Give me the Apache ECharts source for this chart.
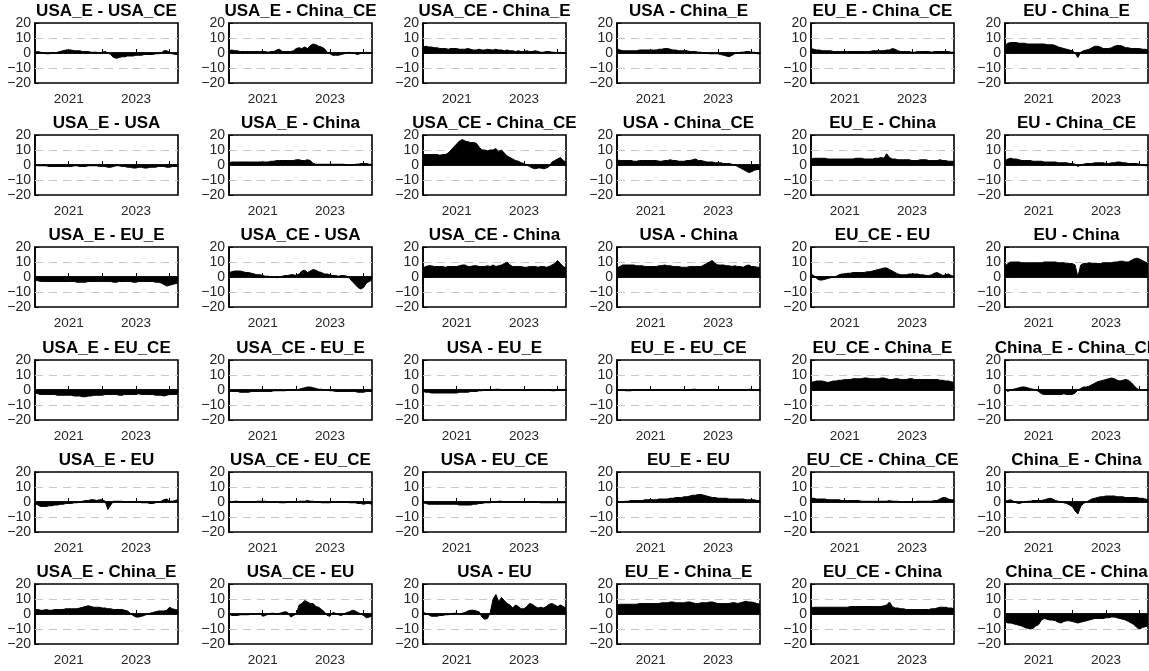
<!DOCTYPE html>
<html>
<head>
<meta charset="utf-8">
<script src="https://cdn.jsdelivr.net/npm/echarts@6/dist/echarts.min.js"></script>
<style>
  html, body { margin: 0; padding: 0; background: #fff; }
  #main { width: 1149px; height: 671px; }
</style>
</head>
<body>
<div id="main"></div>
<script>
// monthly categories, 2020-01 .. 2024-04
var months = [];
for (var y = 2020; y <= 2024; y++) {
  for (var m = 1; m <= 12; m++) {
    if (y === 2024 && m > 4) break;
    months.push(y + "-" + (m < 10 ? "0" + m : m));
  }
}

// row 1
const usaE_usaCE = [0.5,1,0.5,0,-0.5,-0.5,0,0,0.5,1,1.5,2, 2,2,1.5,1.5,1.5,1,1,1,0.5,0.5,0.5,0, 0.5,1,0,-1,-3,-3.5,-3,-2.5,-2.5,-2,-2,-2, -1.5,-1.5,-1.5,-1,-1,-1,-1,-0.5,-0.5,0,1.5,1.5, 0.5,-0.5,-1,-1];
const usaE_chinaCE = [1.5,2,1.5,1.5,1,1,1,1,1,1,1,1, 1,1,0.5,1,1,2,2.5,1,1,1,1,1.5, 3,3.5,3,4,3,5,6,5.5,4.5,4,3,0.5, -0.5,-1.5,-1.5,-1.5,-1,-0.5,0,0.5,0,-0.5,-1,0, 0,0.5,0,0];
const usaCE_chinaE = [4,4.5,4,4,3.5,3.5,3,3,3,2.5,3,3, 3,2.5,2.5,2.5,3,2.5,2,2,2.5,2,2,2.5, 2,2,2.5,2,2,1.5,2,1.5,1.5,1,1.5,1, 1,1.5,1,1,1.5,1,0.5,0.5,1,1,0.5,0.5, 0,0.5,0,0];
const usa_chinaE = [3,2,1.5,1.5,1.5,1.5,1.5,1.5,2,2,2,2, 2,2,2,2.5,2.5,3,3,2.5,2,2,1.5,1.5, 1.5,1.5,1,1,1,0.5,0.5,0,0,-0.5,-0.5,-0.5, -0.5,-1,-1.5,-2,-2.5,-1.5,-0.5,0,0.5,0.5,1,1, 0.5,0.5,-0.5,-0.5];
const euE_chinaCE = [3,2.5,2,2,1.5,1.5,1.5,1.5,1,1,1,1, 1,1,1,1,1,1,1,1,1,1,1.5,1.5, 1.5,1.5,1.5,2,2,3,2.5,1.5,1,1,1,1, 0.5,0.5,1,1,1,1,1,0.5,1,1,1,1, 1,1,0.5,0.5];
const eu_chinaE = [5,6.5,7,7,7,6.5,6.5,6.5,6,6,6,6, 6,6,6,5.5,5.5,5.5,5,4,3.5,3,2.5,2, 1.5,0,-3,0.5,1.5,2,2.5,3.5,4.5,4.5,4,3, 3,3,3.5,4.5,5,5,4.5,3.5,3.5,3,3,3, 3,2.5,2.5,2];
// row 2
const usaE_usa = [0,-0.5,-0.5,-0.5,-0.5,-1,-1,-1,-1,-1,-1,-1, -1,-1,-0.5,-0.5,-1,-1,-1,-0.5,-0.5,-0.5,-0.5,-1, -1,-1,-1.5,-1.5,-1,-0.5,-0.5,-1,-1,-1.5,-1.5,-2, -2,-1.5,-1.5,-2,-2,-1.5,-1.5,-1.5,-1,-1,-1,-1.5, -1.5,-1,-1,-1];
const usaE_china = [1.5,2,2,2,2,2,2,2,2,2,2,2, 2,2,2,2.5,2.5,3,3,3,3,3,3,3, 3.5,3.5,3,3,3.5,3,1,0.5,0.5,0.5,0.5,0.5, 0.5,0.5,0.5,0.5,0.5,0.5,0,0,0,0.5,0.5,1, 1,1,0.5,0.5];
const usaCE_chinaCE = [7,7,7,7,7,7,6.5,7,7,8,10,12, 14,16,17,16,15.5,15,15,14.5,12,10,10,9.5, 10,10,11,9,10,8,6,5,4,3,2.5,1.5, 1,0,-1,-2,-2.5,-2,-2,-2.5,-2,-1,2,3, 4,5,3,2];
const usa_chinaCE = [3.5,3,3,3,3,3,2.5,2.5,3,3,3,3, 3,3,3,2.5,2.5,3,3,3.5,3,3,2.5,2.5, 2.5,3,3,3.5,4,3,3,2.5,2,2,2,1.5, 1.5,1.5,1,1,1,0.5,0,-1,-2,-3,-4,-5, -4.5,-3.5,-3,-3];
const euE_china = [4,4.5,4.5,4.5,4.5,4.5,4,4,4,4,4,4, 4,4,4,4,4.5,4.5,4.5,4,4,4,4,4.5, 4.5,5,4.5,7.5,5,4,4,3.5,3.5,3.5,3.5,3.5, 3,3,3,3.5,3.5,3.5,3,3,3,3,3.5,3, 3,2.5,2.5,2.5];
const eu_chinaCE = [3,4,4.5,4,4,3.5,3,3,3,3,2.5,2.5, 2.5,2.5,2,2,2,2,2,1.5,1.5,1.5,1.5,1, 1,0.5,-1,0,0.5,1,1,1,1.5,1.5,1.5,1.5, 1,1,1.5,1.5,2,2,1.5,1.5,1,1,1,1, 0.5,0,-0.5,-0.5];
// row 3
const usaE_euE = [-2,-2.5,-3,-3,-3,-3,-3,-3,-3,-3,-3,-3, -3,-3,-3,-3.5,-3.5,-3.5,-3.5,-3,-3,-3,-3,-3, -3,-3,-3,-3,-3.5,-3.5,-3,-3,-3,-3,-3,-3.5, -3.5,-3,-3,-3,-3,-3,-3,-3.5,-3.5,-4,-5,-6, -5.5,-5,-4.5,-4];
const usaCE_usa = [3,3.5,4,4,4,3.5,3,3,2.5,2,1.5,1.5, 1,0.5,0.5,0,0,-0.5,0,0.5,1,1,1.5,1.5, 1,2,4,4.5,3,4,5,4.5,3.5,3,2,2, 1.5,1,1,0.5,1,1,0.5,-1,-3,-5,-7,-8, -7,-4,-3,-2];
const usaCE_china = [6,7,7.5,7.5,7,7,7,7,6.5,7,7,7, 7,7.5,8,8,7,7,7.5,7.5,7,7,7,7.5, 7,8,7,7.5,8,9,10,8,7,7,7,7, 6.5,6.5,7,7,7,6.5,7,7,6.5,7,8,9, 11,9,7,6];
const usa_china = [6,7,8,8,8,8,8,7.5,7.5,7.5,7,7, 7,7,7,7.5,7.5,8,7.5,7.5,7,7,7,6.5, 6.5,6.5,7,7,7,7,7,8,9,10,11,9, 8,8,8,7.5,7.5,7,7.5,7,7,6.5,7.5,8, 7,7,6.5,6.5];
const euCE_eu = [2,1,-1,-2,-2,-1.5,-1,-0.5,0,0.5,1.5,2, 2,2.5,2.5,3,3,3,3,3,3.5,3.5,4,4.5, 5,5.5,6,6,5,4,3,2,1.5,1.5,1.5,2, 2,2,2,1.5,1.5,1,1,1.5,2.5,3,2,1, 1.5,2,1,0.5];
const eu_china = [7,9,10,10,10,10,9.5,9.5,9.5,9.5,9.5,9.5, 9.5,9.5,10,10,10,10,10,9.5,9.5,9.5,9,9, 9,8,0,8,9,9,9.5,9,9,9,9,9.5, 9.5,9.5,9.5,10,10,10.5,10.5,10,10,11,12,12.5, 12,11,10,9];
// row 4
const usaE_euCE = [-2,-2.5,-3,-3,-3,-3,-3,-3,-3.5,-3.5,-3.5,-3.5, -3.5,-3.5,-4,-4,-4,-4.5,-4.5,-4,-4,-3.5,-3.5,-3.5, -3.5,-3,-3,-3,-3,-3,-3.5,-3.5,-3,-3,-3,-3, -3,-2.5,-3,-3,-3,-3,-3,-3.5,-3.5,-3.5,-4,-3.5, -3,-3,-3,-3];
const usaCE_euE = [-1,-1,-1,-1,-1.5,-1.5,-1.5,-1.5,-1,-1,-1,-1, -1,-1,-1,-1,-0.5,-0.5,-0.5,-0.5,-0.5,0,0,0, 0,0.5,1,1.5,2,2,1.5,1,0.5,0.5,0,0, -0.5,-0.5,-1,-1,-1,-1,-1,-1,-1,-1,-1.5,-1.5, -1.5,-1,-1,-1];
const usa_euE = [-1,-1.5,-1.5,-2,-2,-2,-2,-2,-2,-2,-2,-2, -2,-1.5,-1.5,-1.5,-1.5,-1,-1,-1,-0.5,-0.5,0,0, 0,0,0.5,0.5,0,0,0,0,0,0,0,0, 0,0,0,0,0,0,0,0,0,0,-0.5,-0.5, 0,0,0,0];
const euE_euCE = [0.5,0,0,-0.5,-0.5,-0.5,0,0,0,0,0,0, 0,0,0,0,0,0,0,0,0,0,0,0, 0,0,0,0.5,0.5,0,0,0,0,0,0,0, 0,0,0,0,0,0,0,0,0,0,0,0.5, 0.5,0,0,0];
const euCE_chinaE = [5,5.5,6,6,6,5.5,5,5.5,6,6,6.5,6.5, 7,7,7,7.5,7.5,7.5,7.5,8,8,7.5,7.5,7.5, 7.5,8,8,7.5,7,7,7.5,7.5,7,7,7,7.5, 7.5,7,7,7,7,7,7,7,7,7,6.5,6.5, 6,6,5.5,5];
const chinaE_chinaCE = [0.5,-1,0,0.5,1,1.5,2,2,1.5,1,0.5,0, -1,-2.5,-3,-3,-3,-3,-3,-3,-3,-2.5,-3,-3, -3,-2,0,1,2,2,2.5,3.5,4.5,5.5,6,6.5, 7,7.5,8,7.5,6.5,6,6.5,7,6.5,5,3,1, 0,0,0,0];
// row 5
const usaE_eu = [-1,-2,-3,-3,-3,-2.5,-2.5,-2,-2,-1.5,-1.5,-1, -1,-1,-0.5,-0.5,0,0.5,1,1,1.5,1.5,1,1.5, 1.5,0.5,-5,-2,0.5,0.5,0.5,0.5,0,0,0,0, 0,0,-0.5,-0.5,-0.5,-1,-1,-0.5,0,0.5,1.5,2, 0.5,0.5,1,1.5];
const usaCE_euCE = [0,0,0.5,0.5,0,0,0,0,0,0,0.5,0.5, 0.5,0.5,0,0,0,0,-0.5,-0.5,-0.5,0,0,0, 0,0.5,0.5,0.5,1,0.5,0.5,0,0,-0.5,-0.5,-0.5, -0.5,0,0,0,0,0,0,-0.5,-0.5,-0.5,-1,-1, -1.5,-1,-1,-1.5];
const usa_euCE = [-0.5,-1,-1.5,-1.5,-1.5,-1.5,-1.5,-1.5,-1.5,-1.5,-1.5,-1.5, -1.5,-2,-2,-2,-2,-2,-1.5,-1.5,-1,-1,-0.5,-0.5, -0.5,0,0,0.5,0.5,0,0,0,0,0,0,0, 0,0,0,0,0,0,-0.5,-0.5,-0.5,-0.5,-0.5,-0.5, -0.5,-0.5,-0.5,-0.5];
const euE_eu = [0.5,0,0,0.5,0.5,1,1,1,1,1,1.5,1.5, 1.5,1.5,1.5,2,2,2,2,2.5,2.5,3,3,3, 3.5,3.5,4,4.5,4.5,5,5,4.5,4,3.5,3,3, 2.5,2.5,2.5,2.5,2,2,2,2,2,2,1.5,1.5, 1.5,1.5,1,1];
const euCE_chinaCE = [2.5,2.5,2,2,2,2,1.5,1.5,1.5,1.5,1.5,1, 1,1,1,1,1,1,0.5,0.5,0.5,0.5,0.5,0.5, 0.5,0.5,0.5,0.5,1,0.5,0.5,0.5,0,0,0,0, 0,0,0.5,0.5,0.5,0.5,0.5,0.5,1,1,2,3, 3,2,1.5,1.5];
const chinaE_china = [0.5,1,1.5,0.5,-0.5,-1,-0.5,0,0.5,0.5,1,1, 1,1,1.5,2,2.5,2,1,0.5,0,-0.5,-1,-2, -3,-6,-8,-3,-1,0,1,2,2.5,3,3.5,3.5, 4,4,4,4,3.5,3.5,3.5,3,3,3,3,3, 2.5,2.5,2,1.5];
// row 6
const usaE_chinaE = [3,3,2.5,2.5,3,2.5,2.5,3,3,3,3,3.5, 3.5,3.5,3.5,3.5,4,4.5,5,5.5,5,4.5,4.5,4.5, 4,4,3.5,3.5,3,3,3,3,2.5,2,0.5,-1, -2,-2,-1.5,-1,0,0.5,1,1.5,2,2,2,2.5, 4.5,3.5,3,2.5];
const usaCE_eu = [0,-1,-1,-1,-0.5,-0.5,-0.5,-0.5,0,0,0,0.5, -1.5,-1,0,0.5,0.5,0,0.5,1,1.5,1,-2,-1, 0,6,7,9,8,7,7,5,4.5,3,1.5,-1, -1.5,1,0.5,-0.5,-1,0,1,1.5,2.5,2,1,0, -1,-2.5,-2,-1.5];
const usa_eu = [1,0.5,-0.5,-1.5,-1.5,-1.5,-1,-1,-0.5,-0.5,0,0.5, 0.5,0,0.5,1,2,2.5,2.5,2,1.5,-2,-3.5,-3, 1,10,13,8,11,9,7,6,4,6,5,3.5, 3.5,5,7,6.5,5,4,4.5,4,5,6.5,7,6, 5,6,5,4];
const euE_chinaE = [6,6.5,6.5,6.5,6.5,6.5,6.5,6.5,7,7,7,7, 7,7,7,7,7.5,7.5,7.5,8,8,7.5,7.5,7.5, 7.5,8,8,7.5,7,7,7.5,7.5,7.5,8,8,7.5, 7,7,7,7,7,7.5,7.5,7,7.5,8,8.5,8, 8,7.5,7,6.5];
const euCE_china = [4,4.5,4.5,4.5,4.5,4.5,4.5,4.5,4.5,4.5,4.5,4.5, 4.5,4.5,5,5,5,5,5,5,5,5,5,5, 5,5,5.5,6,8,5,4,4,3.5,3.5,3,3, 3,3,3,3,3,3,3,3.5,3.5,4,4.5,4.5, 4.5,4,4,3.5];
const chinaCE_china = [-5,-6,-6,-6.5,-7,-7.5,-8,-9,-9.5,-10,-9.5,-8, -7,-4,-3,-3.5,-4,-4,-4.5,-5.5,-6,-5,-4.5,-4.5, -5,-5.5,-6,-5.5,-5,-4.5,-4,-3.5,-3,-3,-3,-3, -2.5,-2.5,-2,-2,-2.5,-3,-3.5,-4,-5,-6,-7,-9, -10,-9,-8.5,-8];

const titles = [
  "USA_E - USA_CE", "USA_E - China_CE", "USA_CE - China_E", "USA - China_E", "EU_E - China_CE", "EU - China_E",
  "USA_E - USA", "USA_E - China", "USA_CE - China_CE", "USA - China_CE", "EU_E - China", "EU - China_CE",
  "USA_E - EU_E", "USA_CE - USA", "USA_CE - China", "USA - China", "EU_CE - EU", "EU - China",
  "USA_E - EU_CE", "USA_CE - EU_E", "USA - EU_E", "EU_E - EU_CE", "EU_CE - China_E", "China_E - China_CE",
  "USA_E - EU", "USA_CE - EU_CE", "USA - EU_CE", "EU_E - EU", "EU_CE - China_CE", "China_E - China",
  "USA_E - China_E", "USA_CE - EU", "USA - EU", "EU_E - China_E", "EU_CE - China", "China_CE - China"
];
const values = [
  usaE_usaCE, usaE_chinaCE, usaCE_chinaE, usa_chinaE, euE_chinaCE, eu_chinaE,
  usaE_usa, usaE_china, usaCE_chinaCE, usa_chinaCE, euE_china, eu_chinaCE,
  usaE_euE, usaCE_usa, usaCE_china, usa_china, euCE_eu, eu_china,
  usaE_euCE, usaCE_euE, usa_euE, euE_euCE, euCE_chinaE, chinaE_chinaCE,
  usaE_eu, usaCE_euCE, usa_euCE, euE_eu, euCE_chinaCE, chinaE_china,
  usaE_chinaE, usaCE_eu, usa_eu, euE_chinaE, euCE_china, chinaCE_china
];

const yTicks = [-20, -10, 0, 10, 20];
const dashedAt = [-10, 10];
const labelYears = ["2021", "2023"];

var chartDom = document.getElementById("main");
var myChart = echarts.init(chartDom);

var font = "'Liberation Sans', Arial, Helvetica, sans-serif";
var grids = [], xAxes = [], yAxes = [], titleList = [], seriesList = [];

for (let i = 0; i < 36; i++) {
  let col = i % 6;
  let row = Math.floor(i / 6);
  let gLeft = 35 + 194 * col;
  let gTop = Math.round(23 + 112.2 * row);
  let w = 143, h = 60;

  grids.push({
    left: gLeft, top: gTop, width: w, height: h,
    show: true, borderColor: "#000", borderWidth: 1.6, backgroundColor: "#fff",
  });
  titleList.push({
    text: titles[i],
    left: gLeft + w / 2,
    top: gTop - 20,
    textAlign: "center",
    padding: 0,
    textStyle: { fontFamily: font, fontSize: 17, fontWeight: "bold", color: "#000" },
  });
  xAxes.push({
    type: "category",
    gridIndex: i,
    data: months,
    boundaryGap: false,
    axisLine: { show: true, lineStyle: { color: "#000", width: 1.6 } },
    axisTick: {
      show: true, inside: true, length: 4,
      interval: function (idx, val) { return val.slice(5) === "01" && val !== "2020-01"; },
      lineStyle: { color: "#000", width: 1 },
    },
    axisLabel: {
      interval: function (idx, val) { return val.slice(5) === "01"; },
      formatter: function (val) {
        var yr = val.slice(0, 4);
        return labelYears.indexOf(yr) >= 0 && val.slice(5) === "01" ? yr : "";
      },
      fontFamily: font, fontSize: 13.5, color: "#262626", margin: 9,
    },
    splitLine: { show: false },
  });
  yAxes.push({
    type: "value",
    gridIndex: i,
    min: yTicks[0], max: yTicks[yTicks.length - 1], interval: 10,
    axisLine: { show: true, lineStyle: { color: "#000", width: 1.6 } },
    axisTick: { show: true, inside: true, length: 4, lineStyle: { color: "#000", width: 1 } },
    axisLabel: {
      fontFamily: font, fontSize: 14, color: "#262626", margin: 4,
      formatter: function (v) { return v < 0 ? "\u2212" + (-v) : String(v); },
    },
    splitLine: { show: false },
  });
  seriesList.push({
    type: "line",
    xAxisIndex: i,
    yAxisIndex: i,
    z: 3,
    data: values[i],
    symbol: "none",
    lineStyle: { color: "#000", width: 1 },
    areaStyle: { color: "#000", opacity: 1 },
    markLine: {
      silent: true, symbol: "none", z: 1, label: { show: false },
      data: dashedAt.map(function (v) {
        return { yAxis: v, lineStyle: { color: "#c8c8c8", width: 1.2, type: [8, 6] } };
      }).concat([{ yAxis: 0, lineStyle: { color: "#000", width: 1.6, type: "solid" } }]),
    },
  });
}

var option = {
  animation: false,
  backgroundColor: "#fff",
  title: titleList,
  grid: grids,
  xAxis: xAxes,
  yAxis: yAxes,
  series: seriesList,
};

option && myChart.setOption(option);
</script>
</body>
</html>
